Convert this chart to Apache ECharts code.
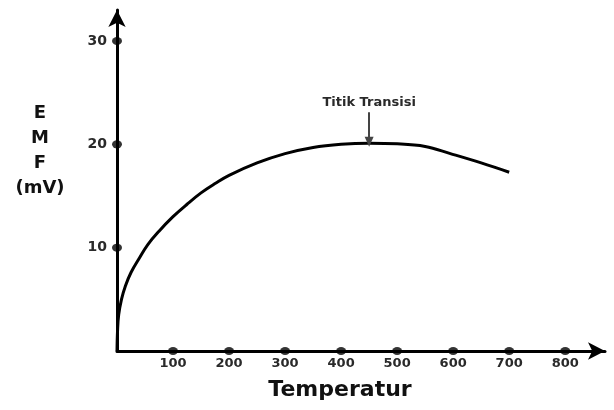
<!DOCTYPE html>
<html>
<head>
<meta charset="utf-8">
<script src="https://cdn.jsdelivr.net/npm/echarts@6/dist/echarts.min.js"></script>
<style>
html,body{margin:0;padding:0;background:#fff;}
#chart{width:614px;height:410px;}
</style>
</head>
<body>
<div id="chart"></div>
<script>
// kurva EMF terhadap temperatur
var suhu = [0, 1, 3, 8, 15, 25, 40, 55, 75, 100, 125, 150, 175, 200, 250, 300, 350, 400, 450, 500, 550, 595, 650, 700];
var emf  = [0, 2.0, 3.5, 5.0, 6.3, 7.6, 9.0, 10.3, 11.6, 13.0, 14.2, 15.3, 16.2, 17.0, 18.2, 19.1, 19.7, 20.0, 20.1, 20.05, 19.8, 19.1, 18.2, 17.3];
var xTicks = [100, 200, 300, 400, 500, 600, 700, 800];
var yTicks = [10, 20, 30];
var transisi = [450, 20.1];

var chart = echarts.init(document.getElementById('chart'));

var curveData = [];
for (var i = 0; i < suhu.length; i++) {
    curveData.push([suhu[i], emf[i]]);
}
var dots = [];
xTicks.forEach(function (t) { dots.push([t, 0]); });
yTicks.forEach(function (t) { dots.push([0, t]); });

var font = '"DejaVu Sans", sans-serif';

var option = {
    animation: false,
    grid: {left: 117, right: 9, top: 10, bottom: 59},
    xAxis: {
        type: 'value',
        min: 0,
        max: 871,
        interval: 100,
        splitLine: {show: false},
        axisTick: {show: false},
        axisLine: {
            show: true,
            symbol: ['none', 'arrow'],
            symbolSize: [13, 17],
            lineStyle: {color: '#000', width: 3}
        },
        axisLabel: {
            margin: 6,
            color: '#2a2a2a',
            fontFamily: font,
            fontWeight: 'bold',
            fontSize: 13,
            formatter: function (v) { return (v > 0 && v % 100 === 0) ? v : ''; }
        }
    },
    yAxis: {
        type: 'value',
        min: 0,
        max: 33,
        interval: 10,
        splitLine: {show: false},
        axisTick: {show: false},
        axisLine: {
            show: true,
            symbol: ['none', 'arrow'],
            symbolSize: [13, 17],
            lineStyle: {color: '#000', width: 3}
        },
        axisLabel: {
            margin: 10,
            color: '#2a2a2a',
            fontFamily: font,
            fontWeight: 'bold',
            fontSize: 14,
            formatter: function (v) { return (v > 0 && v % 10 === 0) ? v : ''; }
        }
    },
    graphic: [
        {
            type: 'text',
            x: 40,
            y: 101,
            style: {
                text: 'E\nM\nF\n(mV)',
                align: 'center',
                verticalAlign: 'top',
                fill: '#111',
                font: 'bold 18px ' + font,
                lineHeight: 25
            }
        },
        {
            type: 'text',
            x: 340,
            y: 379,
            style: {
                text: 'Temperatur',
                align: 'center',
                verticalAlign: 'top',
                fill: '#111',
                font: 'bold 22px ' + font
            }
        }
    ],
    series: [
        {
            type: 'line',
            data: curveData,
            smooth: 0.4,
            symbol: 'none',
            lineStyle: {color: '#000', width: 3},
            markLine: {
                silent: true,
                symbol: ['none', 'triangle'],
                symbolSize: [9, 10],
                lineStyle: {color: '#444', width: 2, type: 'solid'},
                label: {
                    show: true,
                    position: 'start',
                    distance: 3,
                    formatter: 'Titik Transisi',
                    color: '#2a2a2a',
                    fontFamily: font,
                    fontWeight: 'bold',
                    fontSize: 13
                },
                data: [[
                    {coord: [transisi[0], 23.1]},
                    {coord: [transisi[0], transisi[1] + 0.15]}
                ]]
            }
        },
        {
            type: 'scatter',
            data: dots,
            symbol: 'circle',
            symbolSize: [10, 8],
            itemStyle: {color: '#000'},
            z: 5
        }
    ]
};
chart.setOption(option);
</script>
</body>
</html>
